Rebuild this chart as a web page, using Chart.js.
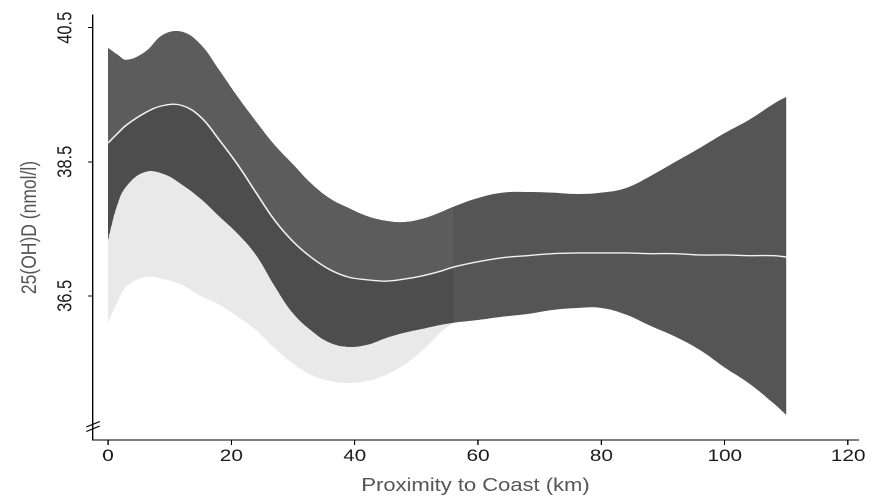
<!DOCTYPE html>
<html><head><meta charset="utf-8">
<script src="https://cdn.jsdelivr.net/npm/chart.js@4/dist/chart.umd.min.js"></script>
<style>html,body{margin:0;padding:0;background:#fff;overflow:hidden}
#c{display:block}</style>
</head><body>
<canvas id="c" width="720" height="498" style="width:879px;height:498px"></canvas>
<script>
// Proximity to coast (km)
const xKm = [0,1.5,3,6,9,12,15,18,21,24,27,30,33,36,39,42,45,48,51,54,56,60,64,68,72,76,80,84,88,92,96,100,104,108,110];
// upper confidence limit
const upperCI = [40.20,40.10,40.02,40.14,40.40,40.44,40.25,39.87,39.47,39.10,38.75,38.46,38.17,37.95,37.81,37.69,37.62,37.60,37.65,37.75,37.83,37.96,38.04,38.05,38.04,38.02,38.04,38.11,38.29,38.50,38.71,38.93,39.13,39.37,39.47];
// fitted curve
const fitLine = [38.78,38.92,39.05,39.23,39.34,39.34,39.17,38.83,38.46,38.04,37.63,37.31,37.07,36.89,36.78,36.74,36.72,36.75,36.80,36.87,36.93,37.01,37.07,37.10,37.13,37.14,37.14,37.14,37.13,37.13,37.11,37.11,37.10,37.10,37.08];
// lower confidence limit
const lowerCI = [37.34,37.86,38.14,38.35,38.32,38.16,37.95,37.69,37.43,37.11,36.65,36.24,35.98,35.80,35.74,35.77,35.87,35.95,36.01,36.07,36.10,36.14,36.19,36.23,36.29,36.32,36.32,36.22,36.05,35.89,35.69,35.43,35.19,34.89,34.72];
// light grey shadow band lower edge (x 0..56)
const shadowLower = [36.10,36.40,36.64,36.78,36.75,36.66,36.50,36.37,36.19,35.99,35.72,35.49,35.32,35.23,35.20,35.23,35.32,35.47,35.69,35.96,36.10];
const splitKm = 56;
const xTicks = [0,20,40,60,80,100,120];
const xTickLabels = ['0','20','40','60','80','100','120'];
const yTicks = [36.5,38.5,40.5];
const yTickLabels = ['36.5','38.5','40.5'];

const nAll = xKm.length;
const nL = xKm.indexOf(splitKm) + 1;
const pts = (ys, n0, n1) => ys.slice(n0, n1).map((y, i) => ({x: xKm[n0 + i], y}));
const clear = 'rgba(0,0,0,0)';
const FONT = 'Liberation Sans, Arial, Helvetica, sans-serif';

const base = {pointRadius: 0, borderWidth: 0, borderColor: clear, tension: 0.4};
const datasets = [
  Object.assign({}, base, {label:'fit', data: pts(fitLine,0,nAll), borderColor:'#f2f2f2', borderWidth:1.4, fill:false}),
  Object.assign({}, base, {label:'upperL', data: pts(upperCI,0,nL), fill:2, backgroundColor:'#5c5c5c'}),
  Object.assign({}, base, {label:'fitL', data: pts(fitLine,0,nL), fill:false}),
  Object.assign({}, base, {label:'lowerL', data: pts(lowerCI,0,nL), fill:2, backgroundColor:'#4d4d4d'}),
  Object.assign({}, base, {label:'upperAll', data: pts(upperCI,0,nAll), fill:5, backgroundColor:'#555555'}),
  Object.assign({}, base, {label:'lowerAll', data: pts(lowerCI,0,nAll), fill:false}),
  Object.assign({}, base, {label:'shadow', data: pts(shadowLower,0,nL), fill:3, backgroundColor:'#e9e9e9'})
];

const breakMark = {
  id: 'breakMark',
  afterDraw(chart) {
    const ctx = chart.ctx, a = chart.chartArea;
    const x = a.left, y = a.bottom;
    ctx.save();
    ctx.strokeStyle = '#000';
    ctx.lineWidth = 1;
    ctx.beginPath();
    ctx.moveTo(x - 5.5, y - 13); ctx.lineTo(x + 5.5, y - 18.5);
    ctx.moveTo(x - 5.5, y - 8.5); ctx.lineTo(x + 5.5, y - 14);
    ctx.stroke();
    ctx.restore();
  }
};

new Chart(document.getElementById('c'), {
  type: 'line',
  data: {datasets},
  plugins: [breakMark],
  options: {
    responsive: false,
    devicePixelRatio: 2,
    animation: false,
    layout: {padding: {left: 0, right: 17.2, top: 15, bottom: 0}},
    plugins: {legend: {display: false}, tooltip: {enabled: false}, filler: {propagate: false}},
    scales: {
      x: {
        type: 'linear', min: -2.43, max: 121.6,
        afterBuildTicks: s => { s.ticks = xTicks.map(v => ({value: v})); },
        afterFit: s => { s.height = 58; },
        ticks: {callback: (v, i) => xTickLabels[i], maxRotation: 0, padding: 1, color: '#1a1a1a', font: {family: FONT, size: 17}},
        grid: {drawOnChartArea: false, drawTicks: true, tickLength: 5, color: '#000', lineWidth: 1},
        border: {display: true, color: '#000', width: 1},
        title: {display: true, text: 'Proximity to Coast (km)', color: '#555', font: {family: FONT, size: 18}, padding: {top: 0, bottom: 1}}
      },
      y: {
        type: 'linear', min: 34.35, max: 40.69,
        afterBuildTicks: s => { s.ticks = yTicks.map(v => ({value: v})); },
        afterFit: s => { s.width = 76.2; },
        ticks: {callback: (v, i) => yTickLabels[i], minRotation: 90, maxRotation: 90, crossAlign: 'center', padding: 2, color: '#1a1a1a', font: {family: FONT, size: 16.5}},
        grid: {drawOnChartArea: false, drawTicks: true, tickLength: 4.1, color: '#000', lineWidth: 1},
        border: {display: true, color: '#000', width: 1},
        title: {display: true, text: '25(OH)D (nmol/l)', color: '#555', font: {family: FONT, size: 17.5}, padding: {top: 14, bottom: 0}}
      }
    }
  }
});
</script>
</body></html>
